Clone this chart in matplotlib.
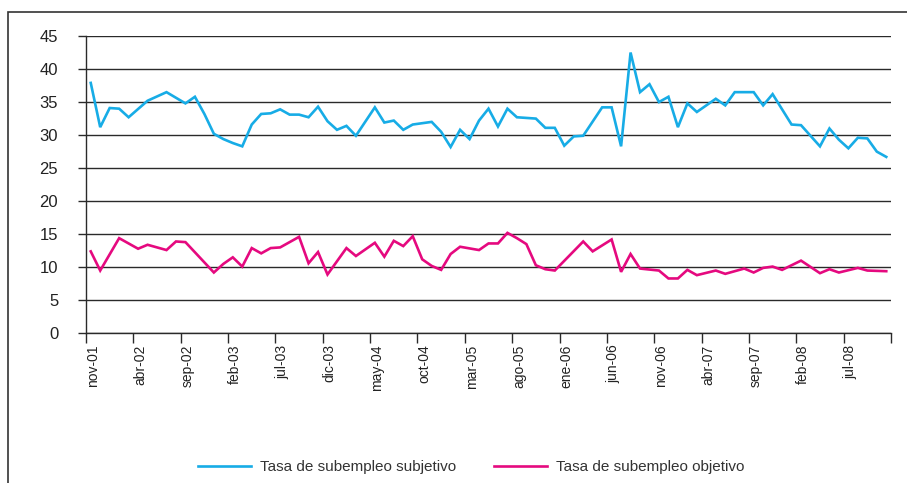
import numpy as np
import matplotlib
matplotlib.use("Agg")
import matplotlib.pyplot as plt
from matplotlib.patches import Rectangle
from matplotlib.transforms import ScaledTranslation

# ---- data (monthly, nov-01 .. nov-08); None = no vertex visible ----
months = ["nov-01","dic-01","ene-02","feb-02","mar-02","abr-02","may-02","jun-02","jul-02","ago-02",
          "sep-02","oct-02","nov-02","dic-02","ene-03","feb-03","mar-03","abr-03","may-03","jun-03",
          "jul-03","ago-03","sep-03","oct-03","nov-03","dic-03","ene-04","feb-04","mar-04","abr-04",
          "may-04","jun-04","jul-04","ago-04","sep-04","oct-04","nov-04","dic-04","ene-05","feb-05",
          "mar-05","abr-05","may-05","jun-05","jul-05","ago-05","sep-05","oct-05","nov-05","dic-05",
          "ene-06","feb-06","mar-06","abr-06","may-06","jun-06","jul-06","ago-06","sep-06","oct-06",
          "nov-06","dic-06","ene-07","feb-07","mar-07","abr-07","may-07","jun-07","jul-07","ago-07",
          "sep-07","oct-07","nov-07","dic-07","ene-08","feb-08","mar-08","abr-08","may-08","jun-08",
          "jul-08","ago-08","sep-08","oct-08","nov-08"]

subjetivo = [37.9, 31.2, 34.1, 34.0, 32.7, None, 35.2, None, 36.5, None,
             34.8, 35.8, 33.2, 30.2, 29.4, 28.8, 28.3, 31.6, 33.2, 33.3,
             33.9, 33.1, 33.1, 32.7, 34.3, 32.1, 30.8, 31.4, 29.9, None,
             34.2, 31.9, 32.2, 30.8, 31.6, None, 32.0, 30.5, 28.2, 30.8,
             29.4, 32.2, 34.0, 31.3, 34.0, 32.7, None, 32.5, 31.1, 31.1,
             28.4, 29.8, 29.9, None, 34.2, 34.2, 28.3, 42.5, 36.5, 37.7,
             35.0, 35.8, 31.2, 34.8, 33.5, None, 35.5, 34.5, 36.5, None,
             36.5, 34.5, 36.2, None, 31.6, 31.5, None, 28.3, 31.0, 29.3,
             28.0, 29.6, 29.5, 27.5, 26.7]

objetivo = [12.4, 9.5, None, 14.4, None, 12.8, 13.4, None, 12.6, 13.9,
            13.8, None, None, 9.2, 10.5, 11.5, 10.1, 12.9, 12.1, 12.9,
            13.0, None, 14.6, 10.6, 12.3, 8.9, None, 12.9, 11.7, None,
            13.7, 11.6, 14.0, 13.2, 14.7, 11.2, 10.2, 9.6, 12.0, 13.1,
            None, 12.6, 13.6, 13.6, 15.2, 14.4, 13.5, 10.3, 9.7, 9.5,
            None, None, 13.9, 12.4, None, 14.2, 9.3, 12.0, 9.8, None,
            9.5, 8.3, 8.3, 9.6, 8.8, None, 9.5, 9.0, None, 9.8,
            9.2, 9.9, 10.1, 9.6, None, 11.0, None, 9.1, 9.7, 9.2,
            None, 9.9, 9.5, None, 9.4]

series_names = ["Tasa de subempleo subjetivo", "Tasa de subempleo objetivo"]
colors = ["#17ace6", "#e5097f"]
y_ticks = [0, 5, 10, 15, 20, 25, 30, 35, 40, 45]
label_step = 5

W, H = 907, 483
fig = plt.figure(figsize=(W/100, H/100), dpi=100)
ax = fig.add_axes([86/W, 1-333.3/H, (891-86)/W, (333.3-36)/H])

x = np.arange(len(months))
for vals, c, name in zip([subjetivo, objetivo], colors, series_names):
    v = np.array([np.nan if a is None else a for a in vals], dtype=float)
    m = ~np.isnan(v)
    ax.plot(x[m], v[m], color=c, lw=1.9, label=name, solid_joinstyle="miter")

ax.set_xlim(-0.5, len(months) - 0.5)
ax.set_ylim(0, 45)
ax.set_yticks(y_ticks)
ax.set_yticklabels([str(t) for t in y_ticks], family="Liberation Sans", fontsize=12, color="#222222")
ax.yaxis.grid(True, color="#2a2a2a", lw=1.0)
ax.set_axisbelow(True)
ax.tick_params(axis="y", length=6, width=1.0, color="#2a2a2a", pad=14)

lab_idx = list(range(0, len(months), label_step))
ax.set_xticks(lab_idx)
ax.set_xticklabels([months[i] for i in lab_idx], rotation=90, family="Liberation Sans",
                   fontsize=10, color="#222222")
ax.tick_params(axis="x", which="major", length=0, pad=8)
off = ScaledTranslation(2/100, 0, fig.dpi_scale_trans)
for lbl in ax.get_xticklabels():
    lbl.set_transform(lbl.get_transform() + off)
ax.set_xticks(np.arange(-0.5, len(months), label_step), minor=True)
ax.tick_params(axis="x", which="minor", length=7, width=1.0, color="#2a2a2a")

for s in ["top", "right"]:
    ax.spines[s].set_visible(False)
for s in ["left", "bottom"]:
    ax.spines[s].set_color("#2a2a2a")
    ax.spines[s].set_linewidth(1.0)

leg = fig.legend(loc="center", bbox_to_anchor=(471/W, 1-467/H), ncol=2, frameon=False,
                 prop={"family": "Liberation Sans", "size": 11}, handlelength=3.5,
                 columnspacing=2.5, handletextpad=0.55)
for t in leg.get_texts():
    t.set_color("#333333")

fig.patches.append(Rectangle((8/W, -0.2), 1.2, 1.2 - 12/H, transform=fig.transFigure,
                             fill=False, edgecolor="#333333", lw=1.2, zorder=0))

fig.savefig("out.png", dpi=100, facecolor="white")
